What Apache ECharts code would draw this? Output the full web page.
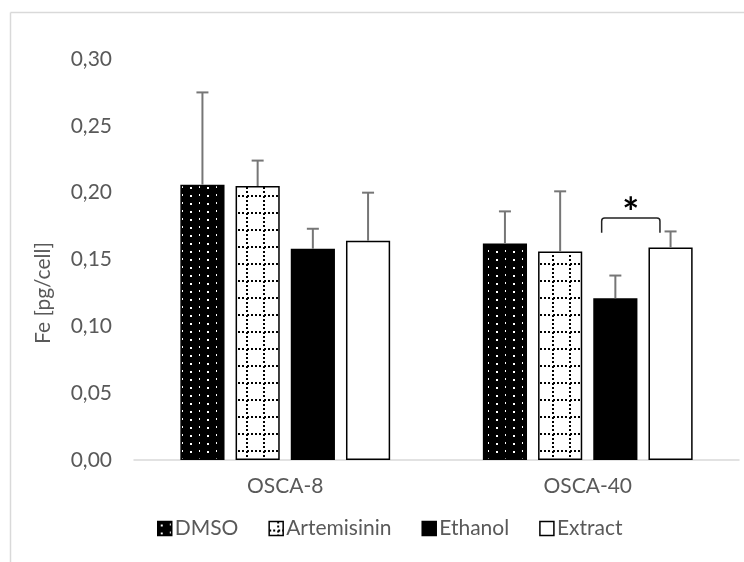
<!DOCTYPE html>
<html><head><meta charset="utf-8">
<script src="https://cdn.jsdelivr.net/npm/echarts@6/dist/echarts.min.js"></script>
<style>html,body{margin:0;padding:0;background:#fff}#c{width:744px;height:562px}</style>
</head><body><div id="c"></div>
<script>
// ---- data ----
const categories = ['OSCA-8', 'OSCA-40'];
const seriesNames = ['DMSO', 'Artemisinin', 'Ethanol', 'Extract'];
const dmsoMean = [0.206, 0.162];
const dmsoTop = [0.275, 0.186];
const artemisininMean = [0.205, 0.156];
const artemisininTop = [0.224, 0.201];
const ethanolMean = [0.158, 0.121];
const ethanolTop = [0.173, 0.138];
const extractMean = [0.164, 0.159];
const extractTop = [0.200, 0.171];
const yTicks = [0, 0.05, 0.10, 0.15, 0.20, 0.25, 0.30];
const yAxisTitle = 'Fe [pg/cell]';
// significance bracket: OSCA-40, Ethanol vs Extract
const sigBracket = { cat: 1, from: 2, to: 3, top: 0.181, foot: 0.170, star: 0.192, label: '*' };

const means = [dmsoMean, artemisininMean, ethanolMean, extractMean];
const tops = [dmsoTop, artemisininTop, ethanolTop, extractTop];

// ---- patterns ----
function dotsPattern() {
  const c = document.createElement('canvas'); c.width = 17; c.height = 8;
  const g = c.getContext('2d');
  g.fillStyle = '#000'; g.fillRect(0, 0, 17, 8);
  g.fillStyle = '#fff';
  g.fillRect(3, 3, 2, 2);
  g.fillRect(12, 2, 1, 2);
  return c;
}
function gridPattern() {
  const c = document.createElement('canvas'); c.width = 17; c.height = 17;
  const g = c.getContext('2d');
  g.fillStyle = '#fff'; g.fillRect(0, 0, 17, 17);
  g.fillStyle = '#000';
  for (let i = 0; i < 17; i += 4.25) {
    const p = Math.round(i);
    g.fillRect(p, 8, 2, 2);
    g.fillRect(8, p, 2, 2);
  }
  return c;
}
const fills = [
  { image: dotsPattern(), repeat: 'repeat' },
  { image: gridPattern(), repeat: 'repeat' },
  '#000',
  '#fff'
];

const BAR_FRAC = 0.146;
function barCenter(api, cat, idx) {
  const band = api.size([1, 0])[0];
  const w = band * BAR_FRAC;
  return api.coord([cat, 0])[0] + (-1.875 + 1.25 * idx) * w;
}

const errData = [];
for (let s = 0; s < 4; s++) for (let c = 0; c < categories.length; c++) errData.push([c, s, means[s][c], tops[s][c]]);

const FONT = 'Lato';
const TXT = '#595959';
const STAR_SIZE = 40;

const series = seriesNames.map((n, i) => ({
  name: n, type: 'bar', data: means[i],
  barWidth: (BAR_FRAC * 100) + '%', barGap: '25%',
  itemStyle: { color: fills[i], borderColor: '#000', borderWidth: 1.5 },
  emphasis: { disabled: true }, z: 2
}));
series.push({
  type: 'custom', name: 'err', data: errData, z: 3, silent: true,
  encode: { x: 0, y: 3 },
  renderItem: function (params, api) {
    const cat = api.value(0), idx = api.value(1);
    const x = barCenter(api, cat, idx);
    const y0 = api.coord([cat, api.value(2)])[1];
    const y1 = api.coord([cat, api.value(3)])[1];
    const st = { stroke: '#767676', lineWidth: 2 };
    return { type: 'group', children: [
      { type: 'line', shape: { x1: x, y1: y0, x2: x, y2: y1 }, style: st },
      { type: 'line', shape: { x1: x - 6, y1: y1, x2: x + 6, y2: y1 }, style: st }
    ]};
  }
});
series.push({
  type: 'custom', name: 'sig', data: [[sigBracket.cat, sigBracket.top]], z: 4, silent: true,
  renderItem: function (params, api) {
    const band = api.size([1, 0])[0];
    const w = band * BAR_FRAC;
    const xl = barCenter(api, sigBracket.cat, sigBracket.from) - 0.31 * w;
    const xr = barCenter(api, sigBracket.cat, sigBracket.to) - 0.24 * w;
    const yt = api.coord([sigBracket.cat, sigBracket.top])[1];
    const yf = api.coord([sigBracket.cat, sigBracket.foot])[1];
    const ys = api.coord([sigBracket.cat, sigBracket.star])[1];
    return { type: 'group', children: [
      { type: 'path', shape: { pathData: `M${xl} ${yf} L${xl} ${yt + 3} Q${xl} ${yt} ${xl + 3} ${yt} L${xr - 3} ${yt} Q${xr} ${yt} ${xr} ${yt + 3} L${xr} ${yf}` },
        style: { stroke: '#222', lineWidth: 1.5, fill: null } },
      { type: 'text', x: (xl + xr) / 2, y: ys + STAR_SIZE * 0.28, style: { text: sigBracket.label, fill: '#000', font: 'bold ' + STAR_SIZE + 'px ' + FONT, align: 'center', verticalAlign: 'middle' } }
    ]};
  }
});

const chart = echarts.init(document.getElementById('c'), null, { renderer: 'canvas' });
chart.setOption({
  animation: false,
  backgroundColor: '#fff',
  grid: { left: 134, right: 5, top: 59, bottom: 102, containLabel: false },
  xAxis: {
    type: 'category', data: categories,
    axisLine: { lineStyle: { color: '#d9d9d9', width: 1.5 } },
    axisTick: { show: false },
    axisLabel: { color: TXT, fontFamily: FONT, fontSize: 21, margin: 16 }
  },
  yAxis: {
    type: 'value', min: 0, max: 0.30, interval: 0.05,
    axisLine: { show: false }, axisTick: { show: false }, splitLine: { show: false },
    axisLabel: { color: TXT, fontFamily: FONT, fontSize: 21, margin: 22,
      formatter: v => { const t = yTicks.find(k => Math.abs(k - v) < 1e-9); return (t === undefined ? v : t).toFixed(2).replace('.', ','); } }
  },
  legend: {
    data: seriesNames, bottom: 18, left: 152, icon: 'rect',
    itemWidth: 14, itemHeight: 14, itemGap: 30,
    textStyle: { color: TXT, fontFamily: FONT, fontSize: 21, padding: [0, 0, 0, -2] },
    itemStyle: { borderColor: '#000', borderWidth: 1.5 }
  },
  graphic: [
    { type: 'line', shape: { x1: 10.5, y1: 12.5, x2: 744, y2: 12.5 }, style: { stroke: '#d9d9d9', lineWidth: 1.5 } },
    { type: 'line', shape: { x1: 10.5, y1: 12.5, x2: 10.5, y2: 562 }, style: { stroke: '#d9d9d9', lineWidth: 1.5 } },
    { type: 'text', x: 43, y: 293, rotation: Math.PI / 2,
      style: { text: yAxisTitle, fill: TXT, font: '21px ' + FONT, align: 'center', verticalAlign: 'middle' } }
  ],
  series: series
});
</script></body></html>
